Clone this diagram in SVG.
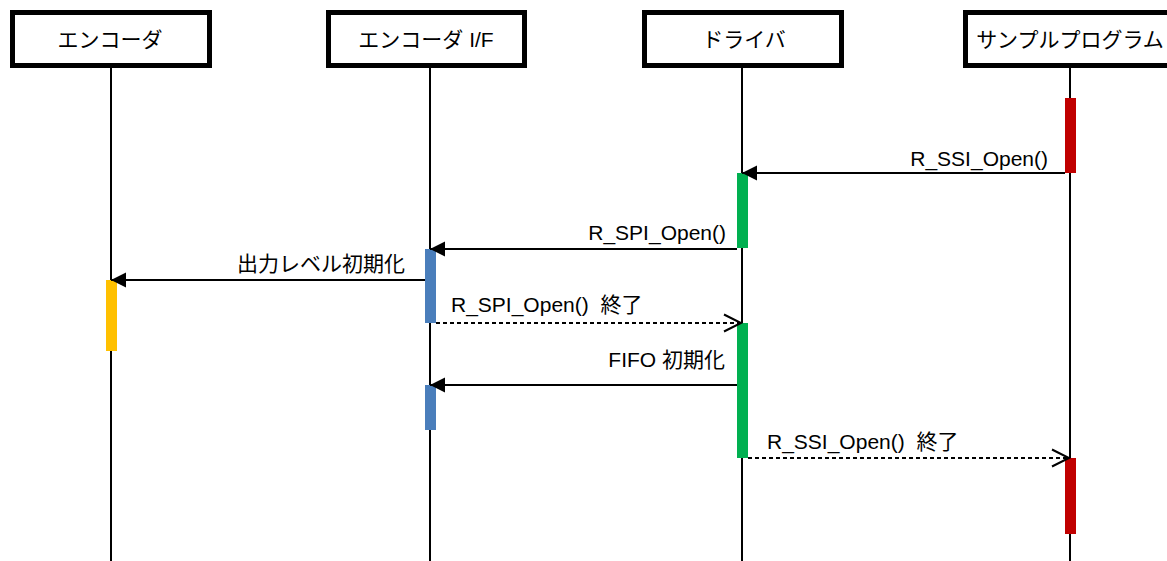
<svg xmlns="http://www.w3.org/2000/svg" width="1167" height="561" viewBox="0 0 1167 561">
<style>
text{font-family:"Liberation Sans","Noto Sans CJK JP",sans-serif;font-size:21px;fill:#000}
.hdr{fill:#fff;stroke:#000;stroke-width:5}
.life{stroke:#000;stroke-width:2;fill:none}
.msg{stroke:#000;stroke-width:2;fill:none}
.ret{stroke:#000;stroke-width:2;fill:none;stroke-dasharray:4 3}
.red{fill:#C00000}.green{fill:#00B050}.blue{fill:#4A7EBB}.yellow{fill:#FFC000}
</style>
<defs>
<marker id="solid" markerUnits="userSpaceOnUse" markerWidth="16" markerHeight="16" refX="15" refY="7.5" orient="auto" overflow="visible">
<path d="M0,0 L15,7.5 L0,15 z" fill="#000"/>
</marker>
<marker id="open" markerUnits="userSpaceOnUse" markerWidth="18" markerHeight="18" refX="17" refY="8.5" orient="auto" overflow="visible">
<path d="M0,0 L17,8.5 L0,17" fill="none" stroke="#000" stroke-width="2"/>
</marker>
</defs>
<rect width="1167" height="561" fill="#fff"/>
<g id="encoder">
<line class="life" x1="111" y1="68" x2="111" y2="561"/>
<rect class="hdr" x="12.5" y="12.5" width="197" height="53"/>
<text x="110" y="47" text-anchor="middle">エンコーダ</text>
<rect class="yellow" x="106" y="280" width="11" height="71"/>
</g>
<g id="encoder-if">
<line class="life" x1="430" y1="68" x2="430" y2="561"/>
<rect class="hdr" x="328.5" y="12.5" width="196" height="53"/>
<text x="426" y="47" text-anchor="middle">エンコーダ I/F</text>
<rect class="blue" x="425" y="249" width="11" height="74"/>
<rect class="blue" x="425" y="385" width="11" height="45"/>
</g>
<g id="driver">
<line class="life" x1="742" y1="68" x2="742" y2="561"/>
<rect class="hdr" x="644.5" y="12.5" width="197" height="53"/>
<text x="744" y="47" text-anchor="middle">ドライバ</text>
<rect class="green" x="737" y="173" width="11" height="75"/>
<rect class="green" x="737" y="323" width="11" height="135"/>
</g>
<g id="sample-program">
<line class="life" x1="1070" y1="68" x2="1070" y2="561"/>
<rect class="hdr" x="965.5" y="12.5" width="209" height="53"/>
<text x="1070" y="47" text-anchor="middle">サンプルプログラム</text>
<rect class="red" x="1065" y="98" width="11" height="75"/>
<rect class="red" x="1065" y="458" width="11" height="76"/>
</g>
<g id="connectors">
<line class="msg" x1="1065" y1="173" x2="742" y2="173" marker-end="url(#solid)"/>
<text x="1048" y="166" text-anchor="end">R_SSI_Open()</text>
<line class="msg" x1="737" y1="249" x2="430" y2="249" marker-end="url(#solid)"/>
<text x="726" y="240" text-anchor="end">R_SPI_Open()</text>
<line class="msg" x1="425" y1="280" x2="111" y2="280" marker-end="url(#solid)"/>
<text x="405" y="271" text-anchor="end">出力レベル初期化</text>
<line class="ret" x1="436" y1="323" x2="741" y2="323" marker-end="url(#open)"/>
<text x="451" y="312" xml:space="preserve">R_SPI_Open()  終了</text>
<line class="msg" x1="737" y1="385" x2="430" y2="385" marker-end="url(#solid)"/>
<text x="725" y="367" text-anchor="end">FIFO 初期化</text>
<line class="ret" x1="748" y1="458" x2="1069" y2="458" marker-end="url(#open)"/>
<text x="767" y="449" xml:space="preserve">R_SSI_Open()  終了</text>
</g>
</svg>
